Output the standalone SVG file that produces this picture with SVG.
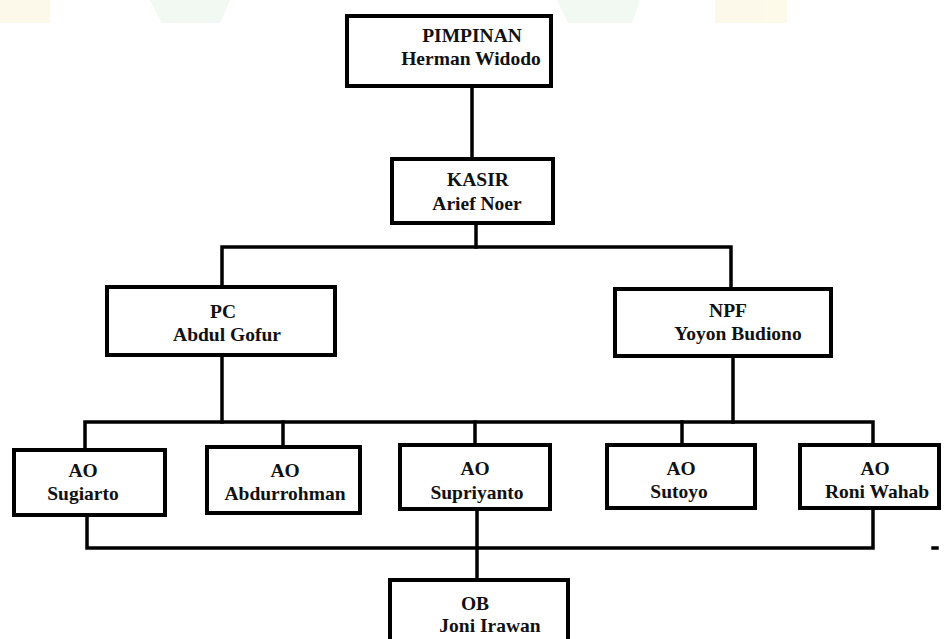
<svg xmlns="http://www.w3.org/2000/svg" width="944" height="639" viewBox="0 0 944 639">
<style>
.box{fill:#fff;stroke:#000;stroke-width:4}
.ln{fill:none;stroke:#000;stroke-width:3.5;stroke-linecap:square;stroke-linejoin:miter}
text{font-family:'Liberation Serif','Times New Roman',serif;font-weight:700;font-size:19.5px;fill:#111;text-anchor:middle}
</style>
<rect width="944" height="639" fill="#fff"/>
<g id="watermark" opacity="0.9">
<rect x="0" y="0" width="50" height="23" fill="#fdf9e8"/>
<polygon points="150,0 230,0 220,23 162,23" fill="#f1f8f1"/>
<polygon points="557,0 640,0 632,23 568,23" fill="#f1f8f1"/>
<rect x="715" y="0" width="72" height="23" fill="#fdf9e8"/>
</g>
<g id="connectors">
<path class="ln" d="M472,88 V157"/>
<path class="ln" d="M476,225 V247"/>
<path class="ln" d="M222,285 V247 H731 V287"/>
<path class="ln" d="M222,357 V422"/>
<path class="ln" d="M733,358 V422"/>
<path class="ln" d="M85,448 V422 H873 V443"/>
<path class="ln" d="M283,422 V445"/>
<path class="ln" d="M475,422 V443"/>
<path class="ln" d="M682,422 V443"/>
<path class="ln" d="M87,517 V548 H873 V510"/>
<path class="ln" d="M477,511 V578"/>
<path class="ln" d="M933,548 H937" stroke-width="2.5"/>
</g>
<g id="pimpinan"><rect class="box" x="347" y="16" width="204" height="70"/><text x="472" y="42">PIMPINAN</text><text x="471" y="65">Herman Widodo</text></g>
<g id="kasir"><rect class="box" x="392" y="159" width="161" height="64"/><text x="478" y="186">KASIR</text><text x="477" y="210">Arief Noer</text></g>
<g id="pc"><rect class="box" x="107" y="287" width="228" height="68"/><text x="223" y="318">PC</text><text x="227" y="341">Abdul Gofur</text></g>
<g id="npf"><rect class="box" x="615" y="289" width="216" height="67"/><text x="728" y="317">NPF</text><text x="738" y="340">Yoyon Budiono</text></g>
<g id="ao-sugiarto"><rect class="box" x="14" y="450" width="151" height="65"/><text x="83" y="477">AO</text><text x="83" y="500">Sugiarto</text></g>
<g id="ao-abdurrohman"><rect class="box" x="207" y="447" width="153" height="66"/><text x="285" y="477">AO</text><text x="285" y="500">Abdurrohman</text></g>
<g id="ao-supriyanto"><rect class="box" x="400" y="445" width="150" height="64"/><text x="475" y="475">AO</text><text x="477" y="499">Supriyanto</text></g>
<g id="ao-sutoyo"><rect class="box" x="607" y="445" width="148" height="63"/><text x="681" y="475">AO</text><text x="679" y="498">Sutoyo</text></g>
<g id="ao-roni"><rect class="box" x="800" y="445" width="139" height="63"/><text x="875" y="475">AO</text><text x="877" y="498">Roni Wahab</text></g>
<g id="ob"><rect class="box" x="390" y="580" width="178" height="70"/><text x="475" y="610">OB</text><text x="490" y="632">Joni Irawan</text></g>
</svg>
